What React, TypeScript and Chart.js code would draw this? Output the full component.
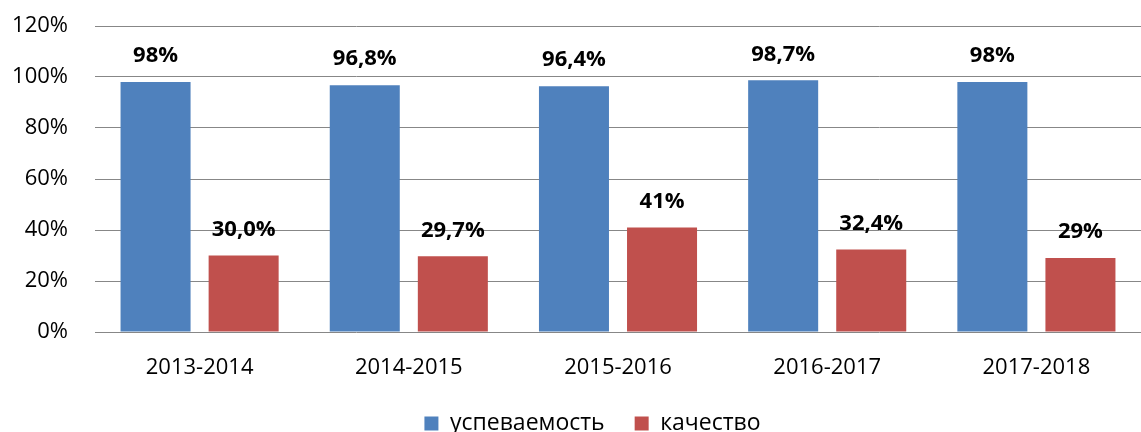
import React, { useEffect, useRef } from "react";
import { Chart, registerables } from "chart.js";

Chart.register(...registerables);

const categories = ["2013-2014", "2014-2015", "2015-2016", "2016-2017", "2017-2018"];
const uspevaemost = [0.98, 0.968, 0.964, 0.987, 0.98];
const kachestvo = [0.3, 0.297, 0.41, 0.324, 0.29];
const uspevaemostLabels = ["98%", "96,8%", "96,4%", "98,7%", "98%"];
const kachestvoLabels = ["30,0%", "29,7%", "41%", "32,4%", "29%"];
const yTicks = [0, 0.2, 0.4, 0.6, 0.8, 1.0, 1.2];

const FONT = "'Open Sans', 'Noto Sans', sans-serif";

const valueLabels = {
  id: "valueLabels",
  afterDatasetsDraw(chart: any) {
    const ctx = chart.ctx;
    ctx.save();
    ctx.font = `bold 22px ${FONT}`;
    ctx.fillStyle = "#000";
    ctx.textAlign = "center";
    ctx.textBaseline = "middle";
    chart.data.datasets.forEach((ds: any, di: number) => {
      const meta = chart.getDatasetMeta(di);
      const labels = ds.valueLabels as string[];
      meta.data.forEach((el: any, i: number) => {
        ctx.fillText(labels[i], el.x, el.y - 26);
      });
    });
    ctx.restore();
  },
};

const legendShift = {
  id: "legendShift",
  afterLayout(chart: any) {
    if (chart.legend) {
      chart.legend.left += 22;
      chart.legend.right += 22;
    }
  },
};

export default function App() {
  const ref = useRef<HTMLCanvasElement | null>(null);
  useEffect(() => {
    document.body.style.margin = "0";
    if (!ref.current) return;
    const chart = new Chart(ref.current, {
      type: "bar",
      data: {
        labels: categories,
        datasets: [
          {
            label: "успеваемость",
            data: uspevaemost,
            backgroundColor: "#4F81BD",
            valueLabels: uspevaemostLabels,
          } as any,
          {
            label: "качество",
            data: kachestvo,
            backgroundColor: "#C0504D",
            valueLabels: kachestvoLabels,
          } as any,
        ],
      },
      options: {
        responsive: false,
        animation: false,
        layout: { padding: { top: 0, right: 0, left: 0, bottom: 0 } },
        datasets: { bar: { categoryPercentage: 0.842, barPercentage: 0.795 } },
        plugins: {
          legend: {
            position: "bottom",
            labels: {
              boxWidth: 14,
              boxHeight: 14,
              padding: 30,
              color: "#000",
              font: { family: FONT, size: 23 },
            },
          },
          tooltip: { enabled: false },
        },
        scales: {
          x: {
            grid: { display: false, drawTicks: false },
            border: { display: false },
            ticks: { color: "#000", font: { family: FONT, size: 22 }, padding: 23, maxRotation: 0 },
            afterFit: (s: any) => {
              s.height = 50;
            },
          },
          y: {
            min: 0,
            max: 1.2,
            afterBuildTicks: (s: any) => {
              s.ticks = yTicks.map((v) => ({ value: v }));
            },
            grid: { color: "#878787", lineWidth: 1, drawTicks: false },
            border: { display: false },
            ticks: {
              color: "#000",
              font: { family: FONT, size: 22 },
              padding: 27,
              callback: (v: any) => Math.round(Number(v) * 100) + "%",
            },
            afterFit: (s: any) => {
              s.width = 95;
              s.paddingTop = 26;
              s.paddingBottom = 13;
            },
          },
        },
      },
      plugins: [valueLabels, legendShift],
    } as any);
    return () => chart.destroy();
  }, []);
  return (
    <div style={{ position: "absolute", left: 0, top: 0, width: 1141, height: 432, overflow: "hidden", background: "#fff" }}>
      <canvas ref={ref} width={1141} height={445} style={{ display: "block" }} />
    </div>
  );
}
